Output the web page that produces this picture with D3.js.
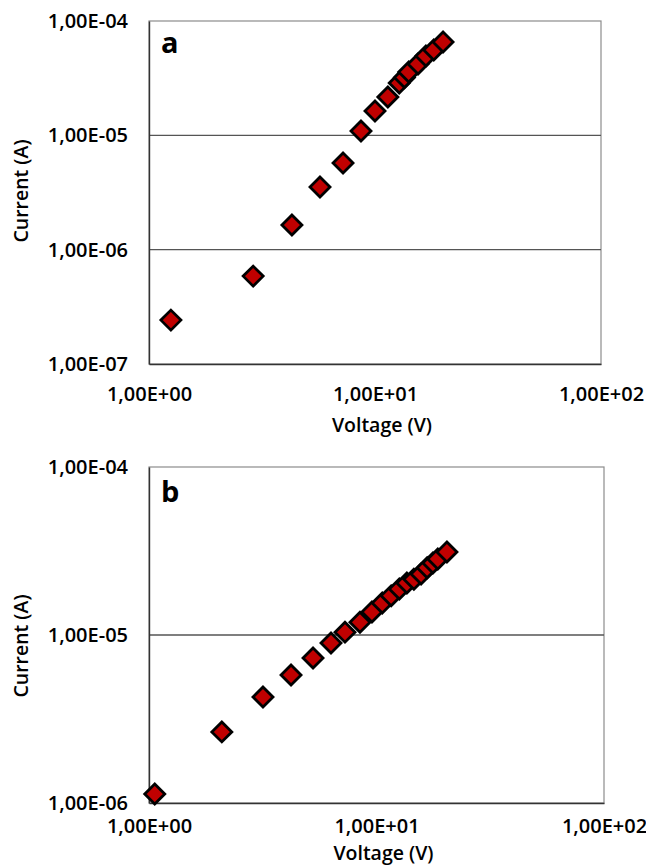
<!DOCTYPE html>
<html>
<head>
<meta charset="utf-8">
<script src="https://cdn.jsdelivr.net/npm/d3@7"></script>
<style>
  body { margin: 0; background: #fff; }
  text { font-family: 'Open Sans', 'Noto Sans', sans-serif; fill: #000; }
</style>
</head>
<body>
<svg id="chart" width="646" height="865"></svg>
<script>
// panel a
const voltageA = [1.25, 2.89, 4.29, 5.71, 7.22, 8.67, 10.0, 11.4, 12.8, 13.5, 14.1, 15.5, 16.8, 18.2, 20.0];
const currentA = [2.42e-7, 5.87e-7, 1.64e-6, 3.53e-6, 5.73e-6, 1.09e-5, 1.63e-5, 2.16e-5, 2.87e-5, 3.2e-5, 3.58e-5, 4.21e-5, 4.94e-5, 5.57e-5, 6.55e-5];
// panel b
const voltageB = [1.06, 2.09, 3.17, 4.21, 5.26, 6.31, 7.27, 8.46, 9.55, 10.6, 11.6, 12.6, 13.6, 14.6, 15.7, 16.7, 17.7, 18.6, 20.4];
const currentB = [1.13e-6, 2.65e-6, 4.27e-6, 5.78e-6, 7.30e-6, 8.96e-6, 1.04e-5, 1.19e-5, 1.37e-5, 1.55e-5, 1.71e-5, 1.88e-5, 2.04e-5, 2.15e-5, 2.31e-5, 2.51e-5, 2.68e-5, 2.83e-5, 3.12e-5];

const xTicks = [1, 10, 100];
const yTicksA = [1e-7, 1e-6, 1e-5, 1e-4];
const yTicksB = [1e-6, 1e-5, 1e-4];

const svg = d3.select('#chart');

// Excel style "1,00E-04"
const sciFormat = (v) => {
  let exp = Math.round(Math.log10(v));
  return '1,00E' + (exp < 0 ? '-' : '+') + String(Math.abs(exp)).padStart(2, '0');
};

const drawPanel = (opts) => {
  let { left, right, top, bottom, xs, ys, yTicks, letter, yTitleY, xTitleY, xPad } = opts;
  let data = xs.map((v, i) => ({ v: v, c: ys[i] }));
  let x = d3.scaleLog().domain([1, 100]).range([left, right]);
  let y = d3.scaleLog().domain([d3.min(yTicks), d3.max(yTicks)]).range([bottom, top]);

  let g = svg.append('g');

  // plot border
  g.append('rect')
    .attr('x', left)
    .attr('y', top)
    .attr('width', right - left)
    .attr('height', bottom - top)
    .attr('fill', 'none')
    .attr('stroke', '#8c8c8c')
    .attr('stroke-width', 1.2);

  // gridlines
  g.selectAll('.grid')
    .data(yTicks.slice(1, -1))
    .enter().append('line')
    .attr('class', 'grid')
    .attr('x1', left)
    .attr('x2', right)
    .attr('y1', d => y(d))
    .attr('y2', d => y(d))
    .attr('stroke', '#555')
    .attr('stroke-width', 1.4);

  let yAxis = g.append('g')
    .attr('transform', `translate(${left},0)`)
    .call(d3.axisLeft(y).tickValues(yTicks).tickFormat(sciFormat).tickSize(0).tickPadding(21));
  let xAxis = g.append('g')
    .attr('transform', `translate(0,${bottom})`)
    .call(d3.axisBottom(x).tickValues(xTicks).tickFormat(sciFormat).tickSize(0).tickPadding(xPad));
  [xAxis, yAxis].forEach(a => {
    a.select('.domain').attr('stroke', '#333').attr('stroke-width', 1.4);
    a.selectAll('text')
      .attr('font-family', "'Open Sans', sans-serif")
      .attr('font-size', 20)
      .attr('font-weight', 600)
      .attr('fill', '#000');
  });

  // markers
  g.selectAll('.pt')
    .data(data)
    .enter().append('path')
    .attr('class', 'pt')
    .attr('transform', d => `translate(${x(d.v)},${y(d.c)})`)
    .attr('d', 'M0,-10L10,0L0,10L-10,0Z')
    .attr('fill', '#c00000')
    .attr('stroke', '#000')
    .attr('stroke-width', 2.8)
    .attr('stroke-linejoin', 'miter');

  // titles
  g.append('text')
    .attr('transform', `translate(28,${yTitleY}) rotate(-90)`)
    .attr('text-anchor', 'middle')
    .attr('font-size', 19.5)
    .attr('font-weight', 600)
    .text('Current (A)');
  g.append('text')
    .attr('x', (left + right) / 2 + 7)
    .attr('y', xTitleY)
    .attr('text-anchor', 'middle')
    .attr('font-size', 19.5)
    .attr('font-weight', 600)
    .text('Voltage (V)');
  g.append('text')
    .attr('x', left + 12)
    .attr('y', top + (letter === 'a' ? 32 : 35))
    .attr('font-family', "'Liberation Sans', Arial, sans-serif")
    .attr('font-size', 29)
    .attr('font-weight', 'bold')
    .text(letter);
};

drawPanel({
  left: 149, right: 601, top: 21, bottom: 364,
  xs: voltageA, ys: currentA, yTicks: yTicksA,
  letter: 'a', yTitleY: 191, xTitleY: 432, xPad: 23
});
drawPanel({
  left: 149, right: 604, top: 467, bottom: 803,
  xs: voltageB, ys: currentB, yTicks: yTicksB,
  letter: 'b', yTitleY: 646, xTitleY: 860, xPad: 16
});
</script>
</body>
</html>
